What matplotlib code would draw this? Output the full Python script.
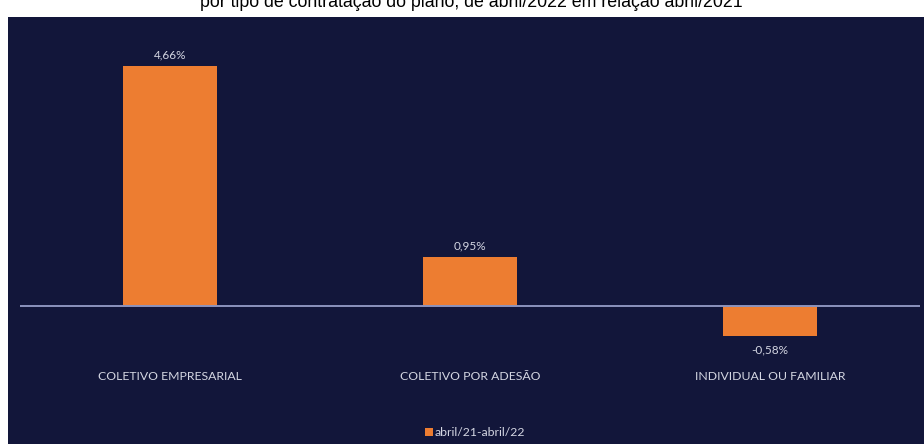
import matplotlib.pyplot as plt
from matplotlib.patches import Rectangle

categorias = ["COLETIVO EMPRESARIAL", "COLETIVO POR ADESÃO", "INDIVIDUAL OU FAMILIAR"]
variacao = [4.66, 0.95, -0.58]
rotulos = ["4,66%", "0,95%", "-0,58%"]
serie = "abril/21-abril/22"
titulo = "por tipo de contratação do plano, de abril/2022 em relação abril/2021"

NAVY = "#12163a"
LARANJA = "#ed7d31"
TEXTO = "#d4d6e2"

W, H = 924, 444
fig = plt.figure(figsize=(W / 100, H / 100), dpi=100)
fig.patch.set_facecolor("white")

# painel escuro do gráfico
fig.patches.append(Rectangle((8 / W, 0), 1 - 8 / W, (H - 17) / H,
                             transform=fig.transFigure, facecolor=NAVY,
                             edgecolor="none", zorder=-5))

# título (parcialmente cortado no topo)
fig.text(471 / W, 1 - 7 / H, titulo, ha="center", va="baseline",
         fontsize=12.8, family="Liberation Sans", color="black")

top, bottom = 40, 340
zero = 306
escala = 51.5
ax = fig.add_axes([20 / W, 1 - bottom / H, 900 / W, (bottom - top) / H])
ax.set_facecolor("none")
ax.set_zorder(2)
ax.set_xlim(-0.5, 2.5)
ax.set_ylim(-(bottom - zero) / escala, (zero - top) / escala)
for s in ax.spines.values():
    s.set_visible(False)
ax.set_xticks([])
ax.set_yticks([])

x = range(len(categorias))
ax.bar(x, variacao, width=0.315, color=LARANJA, zorder=2)
ax.axhline(0, color="#8c93bd", linewidth=1.4, zorder=3)

for xi, v, r in zip(x, variacao, rotulos):
    off = 11 if v >= 0 else -14
    ax.annotate(r, (xi, v), xytext=(0, off), textcoords="offset pixels",
                ha="center", va="center", fontsize=8.5, family="Lato",
                color=TEXTO)

for xi, c in zip(x, categorias):
    ax.text(xi, -(377 - zero) / escala, c, ha="center", va="center",
            fontsize=8.8, family="Lato", color=TEXTO, clip_on=False)

# legenda
fig.patches.append(Rectangle((425 / W, 1 - 436 / H), 8 / W, 8 / H,
                             transform=fig.transFigure, facecolor=LARANJA,
                             edgecolor="none", zorder=2))
fig.text(435 / W, 1 - 432 / H, serie, ha="left", va="center",
         fontsize=8.8, family="Lato", color=TEXTO)

fig.savefig("out.png", dpi=100)
